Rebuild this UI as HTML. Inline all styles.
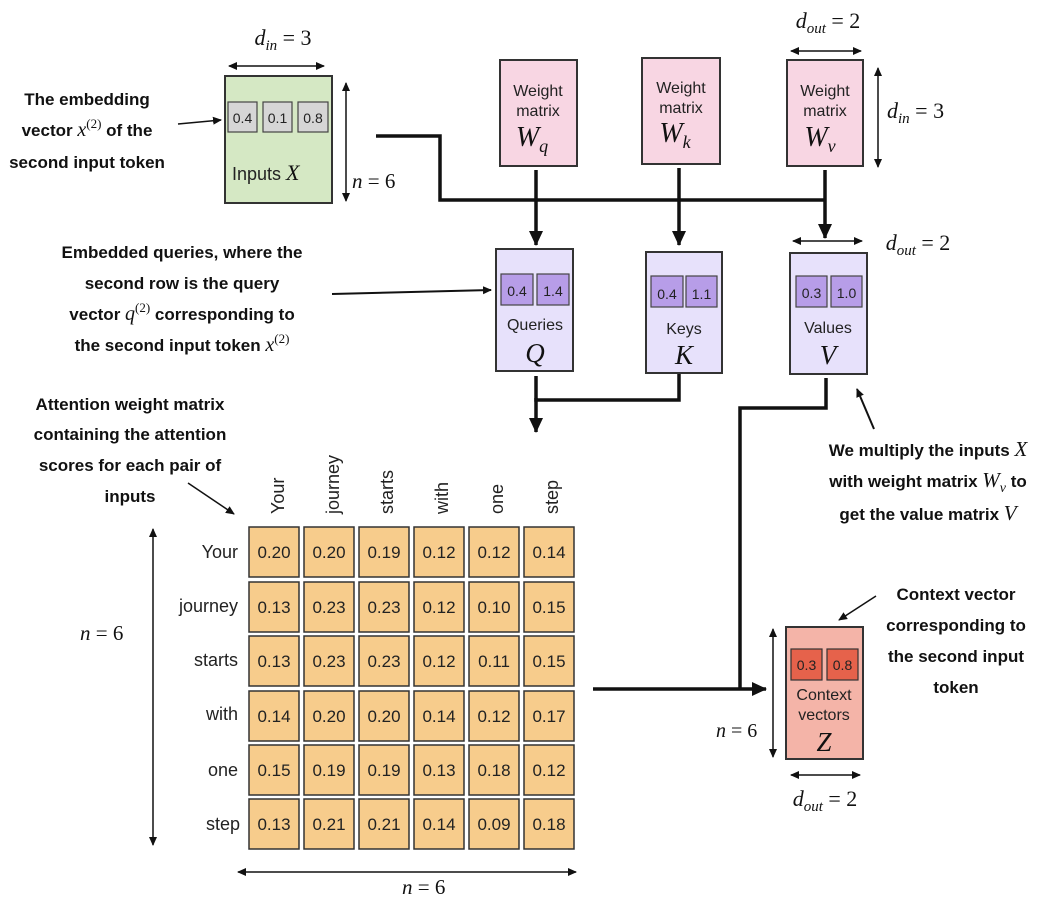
<!DOCTYPE html>
<html><head><meta charset="utf-8"><style>
body{margin:0;background:#fff}
svg{display:block}
.a{font-family:"Liberation Sans",sans-serif;font-weight:bold;font-size:17px;fill:#111}
.s{font-family:"Liberation Sans",sans-serif;fill:#222}
.m{font-family:"Liberation Serif",serif;font-style:italic;fill:#111}
.r{font-family:"Liberation Serif",serif;fill:#111}
</style></head><body>
<svg width="1042" height="903" viewBox="0 0 1042 903" xmlns="http://www.w3.org/2000/svg">
<defs>
<marker id="ah" markerWidth="10" markerHeight="10" refX="8" refY="5" orient="auto" markerUnits="userSpaceOnUse"><path d="M0,1 L9,5 L0,9 z" fill="#111"/></marker>
<marker id="as" markerWidth="10" markerHeight="10" refX="1" refY="5" orient="auto" markerUnits="userSpaceOnUse"><path d="M9,1 L0,5 L9,9 z" fill="#111"/></marker>
<marker id="big" markerWidth="16" markerHeight="16" refX="14" refY="8" orient="auto" markerUnits="userSpaceOnUse"><path d="M0,1 L15,8 L0,15 z" fill="#111"/></marker>
</defs>

<!-- Inputs -->
<text x="283" y="45" text-anchor="middle" class="r" font-size="22"><tspan class="m">d</tspan><tspan class="m" font-size="15" dy="5">in</tspan><tspan dy="-5"> = 3</tspan></text>
<line x1="229" y1="66" x2="324" y2="66" stroke="#111" stroke-width="1.5" marker-start="url(#as)" marker-end="url(#ah)"/>
<rect x="225" y="76" width="107" height="127" fill="#d5e8c4" stroke="#333" stroke-width="2"/>
<rect x="228" y="102" width="29" height="30" fill="#d6d6d6" stroke="#444" stroke-width="1.2"/>
<rect x="263" y="102" width="29" height="30" fill="#d6d6d6" stroke="#444" stroke-width="1.2"/>
<rect x="298" y="102" width="30" height="30" fill="#d6d6d6" stroke="#444" stroke-width="1.2"/>
<text x="242.5" y="123" text-anchor="middle" class="s" font-size="14">0.4</text>
<text x="277.5" y="123" text-anchor="middle" class="s" font-size="14">0.1</text>
<text x="313" y="123" text-anchor="middle" class="s" font-size="14">0.8</text>
<text x="232" y="180" class="s" font-size="18">Inputs <tspan class="m" font-size="22">X</tspan></text>
<line x1="346" y1="83" x2="346" y2="201" stroke="#111" stroke-width="1.5" marker-start="url(#as)" marker-end="url(#ah)"/>
<text x="352" y="188" class="r" font-size="21"><tspan class="m">n</tspan> = 6</text>

<text class="a" text-anchor="middle"><tspan x="87" y="105">The embedding</tspan><tspan x="87" y="136">vector <tspan class="m" font-weight="normal" font-size="20">x</tspan><tspan class="r" font-weight="normal" font-size="13" dy="-8">(2)</tspan><tspan dy="8"> of the</tspan></tspan><tspan x="87" y="168">second input token</tspan></text>
<line x1="178" y1="124" x2="221" y2="120" stroke="#111" stroke-width="1.5" marker-end="url(#ah)"/>

<!-- connector from inputs -->
<polyline points="376,136 440,136 440,200 826,200" fill="none" stroke="#111" stroke-width="3.5"/>

<!-- weight matrices -->
<g>
<rect x="500" y="60" width="77" height="106" fill="#f8d6e3" stroke="#333" stroke-width="2"/>
<text x="538" y="96" text-anchor="middle" class="s" font-size="16">Weight</text>
<text x="538" y="116" text-anchor="middle" class="s" font-size="16">matrix</text>
<text x="532" y="146" text-anchor="middle" class="m" font-size="28">W<tspan font-size="18" dy="6">q</tspan></text>
<rect x="642" y="58" width="78" height="106" fill="#f8d6e3" stroke="#333" stroke-width="2"/>
<text x="681" y="93" text-anchor="middle" class="s" font-size="16">Weight</text>
<text x="681" y="113" text-anchor="middle" class="s" font-size="16">matrix</text>
<text x="675" y="142" text-anchor="middle" class="m" font-size="28">W<tspan font-size="18" dy="6">k</tspan></text>
<rect x="787" y="60" width="76" height="106" fill="#f8d6e3" stroke="#333" stroke-width="2"/>
<text x="825" y="96" text-anchor="middle" class="s" font-size="16">Weight</text>
<text x="825" y="116" text-anchor="middle" class="s" font-size="16">matrix</text>
<text x="820" y="146" text-anchor="middle" class="m" font-size="28">W<tspan font-size="18" dy="6">v</tspan></text>
</g>
<text x="828" y="28" text-anchor="middle" class="r" font-size="22"><tspan class="m">d</tspan><tspan class="m" font-size="15" dy="5">out</tspan><tspan dy="-5"> = 2</tspan></text>
<line x1="791" y1="51" x2="861" y2="51" stroke="#111" stroke-width="1.5" marker-start="url(#as)" marker-end="url(#ah)"/>
<line x1="878" y1="68" x2="878" y2="167" stroke="#111" stroke-width="1.5" marker-start="url(#as)" marker-end="url(#ah)"/>
<text x="887" y="118" class="r" font-size="22"><tspan class="m">d</tspan><tspan class="m" font-size="15" dy="5">in</tspan><tspan dy="-5"> = 3</tspan></text>

<line x1="536" y1="170" x2="536" y2="245" stroke="#111" stroke-width="3.5" marker-end="url(#big)"/>
<line x1="679" y1="168" x2="679" y2="245" stroke="#111" stroke-width="3.5" marker-end="url(#big)"/>
<line x1="825" y1="170" x2="825" y2="238" stroke="#111" stroke-width="3.5" marker-end="url(#big)"/>

<text x="918" y="250" text-anchor="middle" class="r" font-size="22"><tspan class="m">d</tspan><tspan class="m" font-size="15" dy="5">out</tspan><tspan dy="-5"> = 2</tspan></text>
<line x1="793" y1="241" x2="862" y2="241" stroke="#111" stroke-width="1.5" marker-start="url(#as)" marker-end="url(#ah)"/>

<!-- Q K V -->
<rect x="496" y="249" width="77" height="122" fill="#e7e1fb" stroke="#333" stroke-width="2"/>
<rect x="501" y="274" width="32" height="31" fill="#b79de8" stroke="#444" stroke-width="1.2"/>
<rect x="537" y="274" width="32" height="31" fill="#b79de8" stroke="#444" stroke-width="1.2"/>
<text x="517" y="296" text-anchor="middle" class="s" font-size="14">0.4</text>
<text x="553" y="296" text-anchor="middle" class="s" font-size="14">1.4</text>
<text x="535" y="330" text-anchor="middle" class="s" font-size="16">Queries</text>
<text x="535" y="362" text-anchor="middle" class="m" font-size="27">Q</text>

<rect x="646" y="252" width="76" height="121" fill="#e7e1fb" stroke="#333" stroke-width="2"/>
<rect x="651" y="276" width="32" height="31" fill="#b79de8" stroke="#444" stroke-width="1.2"/>
<rect x="686" y="276" width="31" height="31" fill="#b79de8" stroke="#444" stroke-width="1.2"/>
<text x="667" y="299" text-anchor="middle" class="s" font-size="14">0.4</text>
<text x="701.5" y="299" text-anchor="middle" class="s" font-size="14">1.1</text>
<text x="684" y="334" text-anchor="middle" class="s" font-size="16">Keys</text>
<text x="684" y="364" text-anchor="middle" class="m" font-size="27">K</text>

<rect x="790" y="253" width="77" height="121" fill="#e7e1fb" stroke="#333" stroke-width="2"/>
<rect x="796" y="276" width="31" height="31" fill="#b79de8" stroke="#444" stroke-width="1.2"/>
<rect x="831" y="276" width="31" height="31" fill="#b79de8" stroke="#444" stroke-width="1.2"/>
<text x="811.5" y="298" text-anchor="middle" class="s" font-size="14">0.3</text>
<text x="846.5" y="298" text-anchor="middle" class="s" font-size="14">1.0</text>
<text x="828" y="333" text-anchor="middle" class="s" font-size="16">Values</text>
<text x="828" y="364" text-anchor="middle" class="m" font-size="27">V</text>

<text class="a" text-anchor="middle"><tspan x="182" y="258">Embedded queries, where the</tspan><tspan x="182" y="289">second row is the query</tspan><tspan x="182" y="320">vector <tspan class="m" font-weight="normal" font-size="20">q</tspan><tspan class="r" font-weight="normal" font-size="13" dy="-8">(2)</tspan><tspan dy="8"> corresponding to</tspan></tspan><tspan x="182" y="351">the second input token <tspan class="m" font-weight="normal" font-size="20">x</tspan><tspan class="r" font-weight="normal" font-size="13" dy="-8">(2)</tspan></tspan></text>
<line x1="332" y1="294" x2="491" y2="290" stroke="#111" stroke-width="2" marker-end="url(#ah)"/>

<!-- Q-K connector -->
<polyline points="536,376 536,400 679,400 679,374" fill="none" stroke="#111" stroke-width="3.5"/>
<line x1="536" y1="398" x2="536" y2="432" stroke="#111" stroke-width="3.5" marker-end="url(#big)"/>

<!-- V connector -->
<polyline points="826,378 826,408 740,408 740,689" fill="none" stroke="#111" stroke-width="3.5"/>
<line x1="593" y1="689" x2="766" y2="689" stroke="#111" stroke-width="3.5" marker-end="url(#big)"/>

<text class="a" text-anchor="middle"><tspan x="928" y="456">We multiply the inputs <tspan class="m" font-weight="normal" font-size="21">X</tspan></tspan><tspan x="928" y="487">with weight matrix <tspan class="m" font-weight="normal" font-size="21">W</tspan><tspan class="m" font-weight="normal" font-size="14" dy="5">v</tspan><tspan dy="-5"> to</tspan></tspan><tspan x="928" y="520">get the value matrix <tspan class="m" font-weight="normal" font-size="21">V</tspan></tspan></text>
<line x1="874" y1="429" x2="857" y2="389" stroke="#111" stroke-width="2" marker-end="url(#ah)"/>

<!-- attention matrix -->
<text class="a" text-anchor="middle"><tspan x="130" y="410">Attention weight matrix</tspan><tspan x="130" y="440">containing the attention</tspan><tspan x="130" y="471">scores for each pair of</tspan><tspan x="130" y="502">inputs</tspan></text>
<line x1="188" y1="503" x2="234" y2="534" stroke="#111" stroke-width="1.5" marker-end="url(#ah)" transform="translate(0,-20)"/>

<g class="s" font-size="18">
<text transform="translate(284,514) rotate(-90)">Your</text>
<text transform="translate(339,514) rotate(-90)">journey</text>
<text transform="translate(393,514) rotate(-90)">starts</text>
<text transform="translate(448,514) rotate(-90)">with</text>
<text transform="translate(503,514) rotate(-90)">one</text>
<text transform="translate(558,514) rotate(-90)">step</text>
</g>
<g class="s" font-size="18" text-anchor="end">
<text x="238" y="558">Your</text>
<text x="238" y="612">journey</text>
<text x="238" y="666">starts</text>
<text x="238" y="720">with</text>
<text x="238" y="776">one</text>
<text x="240" y="830">step</text>
</g>
<g id="cells" stroke="#333" stroke-width="1.5" fill="#f7cc8c">
<rect x="249" y="527" width="50" height="50"/><rect x="304" y="527" width="50" height="50"/><rect x="359" y="527" width="50" height="50"/><rect x="414" y="527" width="50" height="50"/><rect x="469" y="527" width="50" height="50"/><rect x="524" y="527" width="50" height="50"/>
<rect x="249" y="582" width="50" height="50"/><rect x="304" y="582" width="50" height="50"/><rect x="359" y="582" width="50" height="50"/><rect x="414" y="582" width="50" height="50"/><rect x="469" y="582" width="50" height="50"/><rect x="524" y="582" width="50" height="50"/>
<rect x="249" y="636" width="50" height="50"/><rect x="304" y="636" width="50" height="50"/><rect x="359" y="636" width="50" height="50"/><rect x="414" y="636" width="50" height="50"/><rect x="469" y="636" width="50" height="50"/><rect x="524" y="636" width="50" height="50"/>
<rect x="249" y="691" width="50" height="50"/><rect x="304" y="691" width="50" height="50"/><rect x="359" y="691" width="50" height="50"/><rect x="414" y="691" width="50" height="50"/><rect x="469" y="691" width="50" height="50"/><rect x="524" y="691" width="50" height="50"/>
<rect x="249" y="745" width="50" height="50"/><rect x="304" y="745" width="50" height="50"/><rect x="359" y="745" width="50" height="50"/><rect x="414" y="745" width="50" height="50"/><rect x="469" y="745" width="50" height="50"/><rect x="524" y="745" width="50" height="50"/>
<rect x="249" y="799" width="50" height="50"/><rect x="304" y="799" width="50" height="50"/><rect x="359" y="799" width="50" height="50"/><rect x="414" y="799" width="50" height="50"/><rect x="469" y="799" width="50" height="50"/><rect x="524" y="799" width="50" height="50"/>
</g>
<g class="s" font-size="17" text-anchor="middle">
<text x="274" y="558">0.20</text><text x="329" y="558">0.20</text><text x="384" y="558">0.19</text><text x="439" y="558">0.12</text><text x="494" y="558">0.12</text><text x="549" y="558">0.14</text>
<text x="274" y="613">0.13</text><text x="329" y="613">0.23</text><text x="384" y="613">0.23</text><text x="439" y="613">0.12</text><text x="494" y="613">0.10</text><text x="549" y="613">0.15</text>
<text x="274" y="667">0.13</text><text x="329" y="667">0.23</text><text x="384" y="667">0.23</text><text x="439" y="667">0.12</text><text x="494" y="667">0.11</text><text x="549" y="667">0.15</text>
<text x="274" y="722">0.14</text><text x="329" y="722">0.20</text><text x="384" y="722">0.20</text><text x="439" y="722">0.14</text><text x="494" y="722">0.12</text><text x="549" y="722">0.17</text>
<text x="274" y="776">0.15</text><text x="329" y="776">0.19</text><text x="384" y="776">0.19</text><text x="439" y="776">0.13</text><text x="494" y="776">0.18</text><text x="549" y="776">0.12</text>
<text x="274" y="830">0.13</text><text x="329" y="830">0.21</text><text x="384" y="830">0.21</text><text x="439" y="830">0.14</text><text x="494" y="830">0.09</text><text x="549" y="830">0.18</text>
</g>
<line x1="153" y1="529" x2="153" y2="845" stroke="#111" stroke-width="1.5" marker-start="url(#as)" marker-end="url(#ah)"/>
<text x="80" y="640" class="r" font-size="21"><tspan class="m">n</tspan> = 6</text>
<line x1="238" y1="872" x2="576" y2="872" stroke="#111" stroke-width="1.5" marker-start="url(#as)" marker-end="url(#ah)"/>
<text x="402" y="894" class="r" font-size="21"><tspan class="m">n</tspan> = 6</text>

<!-- context -->
<rect x="786" y="627" width="77" height="132" fill="#f4b4a8" stroke="#333" stroke-width="2"/>
<rect x="791" y="649" width="31" height="31" fill="#e6624b" stroke="#333" stroke-width="1.2"/>
<rect x="827" y="649" width="31" height="31" fill="#e6624b" stroke="#333" stroke-width="1.2"/>
<text x="806.5" y="670" text-anchor="middle" class="s" font-size="14">0.3</text>
<text x="842.5" y="670" text-anchor="middle" class="s" font-size="14">0.8</text>
<text x="824" y="700" text-anchor="middle" class="s" font-size="16">Context</text>
<text x="824" y="720" text-anchor="middle" class="s" font-size="16">vectors</text>
<text x="824" y="751" text-anchor="middle" class="m" font-size="27">Z</text>
<line x1="773" y1="629" x2="773" y2="757" stroke="#111" stroke-width="1.5" marker-start="url(#as)" marker-end="url(#ah)"/>
<text x="716" y="737" class="r" font-size="20"><tspan class="m">n</tspan> = 6</text>
<line x1="791" y1="775" x2="860" y2="775" stroke="#111" stroke-width="1.5" marker-start="url(#as)" marker-end="url(#ah)"/>
<text x="825" y="806" text-anchor="middle" class="r" font-size="22"><tspan class="m">d</tspan><tspan class="m" font-size="15" dy="5">out</tspan><tspan dy="-5"> = 2</tspan></text>

<text class="a" text-anchor="middle"><tspan x="956" y="600">Context vector</tspan><tspan x="956" y="631">corresponding to</tspan><tspan x="956" y="662">the second input</tspan><tspan x="956" y="693">token</tspan></text>
<line x1="876" y1="596" x2="839" y2="620" stroke="#111" stroke-width="1.5" marker-end="url(#ah)"/>
</svg>
</body></html>
